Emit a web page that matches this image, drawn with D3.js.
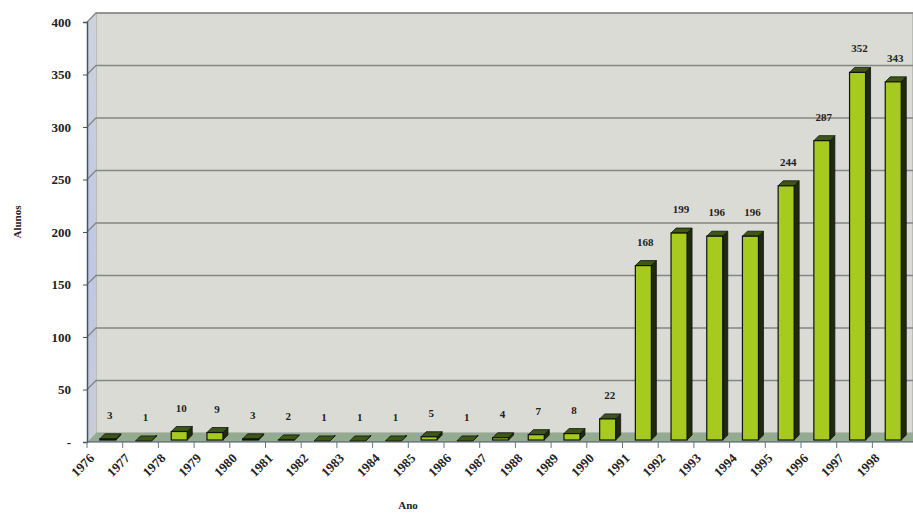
<!DOCTYPE html>
<html>
<head>
<meta charset="utf-8">
<script src="https://cdn.jsdelivr.net/npm/d3@7"></script>
<style>
  body { margin: 0; background: #fff; }
  text { font-family: "Liberation Serif", "DejaVu Serif", serif; font-weight: bold; fill: #222; }
</style>
</head>
<body>
<svg width="913" height="517"></svg>
<script>
// dados
var anos = ["1976","1977","1978","1979","1980","1981","1982","1983","1984","1985","1986",
            "1987","1988","1989","1990","1991","1992","1993","1994","1995","1996","1997","1998"];
var alunos = [3, 1, 10, 9, 3, 2, 1, 1, 1, 5, 1, 4, 7, 8, 22, 168, 199, 196, 196, 244, 287, 352, 343];
var yTicks = [0, 50, 100, 150, 200, 250, 300, 350, 400];

var svg = d3.select("svg");
var depth = 9;       // profundidade das paredes (efeito 3D)
var barDepth = 5;    // profundidade das barras
var frontW = 16;

var x = d3.scaleBand().domain(anos).range([87, 87 + 23 * 35.7]);
var y = d3.scaleLinear().domain([0, 400]).range([442, 22]);

var x0 = 87, x1 = 913;

/* parede do fundo */
svg.append("rect")
  .attr("x", x0 + depth).attr("y", y(400) - depth)
  .attr("width", x1 - x0 - depth).attr("height", y(0) - y(400))
  .attr("fill", "#d9dbd4").attr("stroke", "#9a9c98");

/* parede esquerda */
var grad = svg.append("defs").append("linearGradient").attr("id", "wall")
  .attr("x1", 0).attr("x2", 0).attr("y1", 0).attr("y2", 1);
grad.append("stop").attr("offset", 0).attr("stop-color", "#cdd3dc");
grad.append("stop").attr("offset", 0.6).attr("stop-color", "#bfc7e2");
grad.append("stop").attr("offset", 1).attr("stop-color", "#c8cdd6");
svg.append("path")
  .attr("d", "M" + x0 + "," + y(0) + "L" + x0 + "," + y(400) + "L" + (x0 + depth) + "," + (y(400) - depth) +
             "L" + (x0 + depth) + "," + (y(0) - depth) + "Z")
  .attr("fill", "url(#wall)");

/* chão */
svg.append("path")
  .attr("d", "M" + x0 + "," + y(0) + "L" + (x0 + depth) + "," + (y(0) - depth) + "L" + x1 + "," + (y(0) - depth) +
             "L" + x1 + "," + y(0) + "Z")
  .attr("fill", "#93ab8e");

/* linhas de grade */
var grid = svg.append("g");
yTicks.filter(function(d) { return d > 0; }).forEach(function(d) {
  grid.append("path")
    .attr("d", "M" + x0 + "," + y(d) + "L" + (x0 + depth) + "," + (y(d) - depth) + "L" + x1 + "," + (y(d) - depth))
    .attr("fill", "none").attr("stroke", "#858783").attr("stroke-width", 1.3);
});

/* eixo y */
var yAxis = svg.append("g")
  .attr("transform", "translate(" + x0 + ",0)")
  .call(d3.axisLeft(y).tickValues(yTicks).tickSize(4).tickPadding(12)
    .tickFormat(function(d) { return d === 0 ? "-" : d; }));
yAxis.select(".domain").attr("stroke", "#44526a").attr("stroke-width", 1.5);
yAxis.selectAll(".tick line").attr("stroke", "#44526a");
yAxis.selectAll("text").style("font-size", "13px").attr("fill", "#222");

/* eixo x */
var step = x.step();
var xAxis = svg.append("g");
xAxis.append("line")
  .attr("x1", x0).attr("x2", x1).attr("y1", y(0)).attr("y2", y(0))
  .attr("stroke", "#44526a").attr("stroke-width", 1.2);
anos.forEach(function(a) {
  var tx = x(a);
  xAxis.append("line").attr("x1", tx).attr("x2", tx).attr("y1", y(0)).attr("y2", y(0) + 6)
    .attr("stroke", "#6a768a");
  xAxis.append("text")
    .attr("transform", "translate(" + (tx + 8) + "," + (y(0) + 17) + ") rotate(-45)")
    .attr("text-anchor", "end")
    .style("font-size", "13px")
    .text(a);
});

/* barras 3D */
var bars = svg.append("g").selectAll("g").data(alunos).enter().append("g");
function bx(i) { return x(anos[i]) + step / 2 - frontW / 2 + 3; }

bars.append("path") // lado
  .attr("d", function(d, i) {
    var l = bx(i) + frontW, t = y(d), b = y(0) - 2;
    return "M" + l + "," + b + "L" + l + "," + t + "L" + (l + barDepth) + "," + (t - barDepth) +
           "L" + (l + barDepth) + "," + (b - barDepth) + "Z";
  })
  .attr("fill", "#1d2a0d").attr("stroke", "#111").attr("stroke-width", 0.8);

bars.append("path") // topo
  .attr("d", function(d, i) {
    var l = bx(i), t = y(d);
    return "M" + l + "," + t + "L" + (l + barDepth) + "," + (t - barDepth) + "L" + (l + frontW + barDepth) + "," +
           (t - barDepth) + "L" + (l + frontW) + "," + t + "Z";
  })
  .attr("fill", "#3c5716").attr("stroke", "#111").attr("stroke-width", 0.8);

bars.append("rect") // frente
  .attr("x", function(d, i) { return bx(i); })
  .attr("y", function(d) { return y(d); })
  .attr("width", frontW)
  .attr("height", function(d) { return y(0) - 2 - y(d); })
  .attr("fill", "#a6cb1e").attr("stroke", "#111").attr("stroke-width", 1.2);

bars.append("text")
  .attr("x", function(d, i) { return bx(i) + frontW / 2 + 2; })
  .attr("y", function(d) { return y(d) - 20; })
  .attr("text-anchor", "middle")
  .style("font-size", "11px")
  .text(function(d) { return d; });

/* títulos dos eixos */
svg.append("text")
  .attr("transform", "translate(21,222) rotate(-90)")
  .attr("text-anchor", "middle")
  .style("font-size", "11px")
  .attr("fill", "#34405a")
  .text("Alunos");

svg.append("text")
  .attr("x", 408).attr("y", 509)
  .attr("text-anchor", "middle")
  .style("font-size", "11px")
  .text("Ano");
</script>
</body>
</html>
